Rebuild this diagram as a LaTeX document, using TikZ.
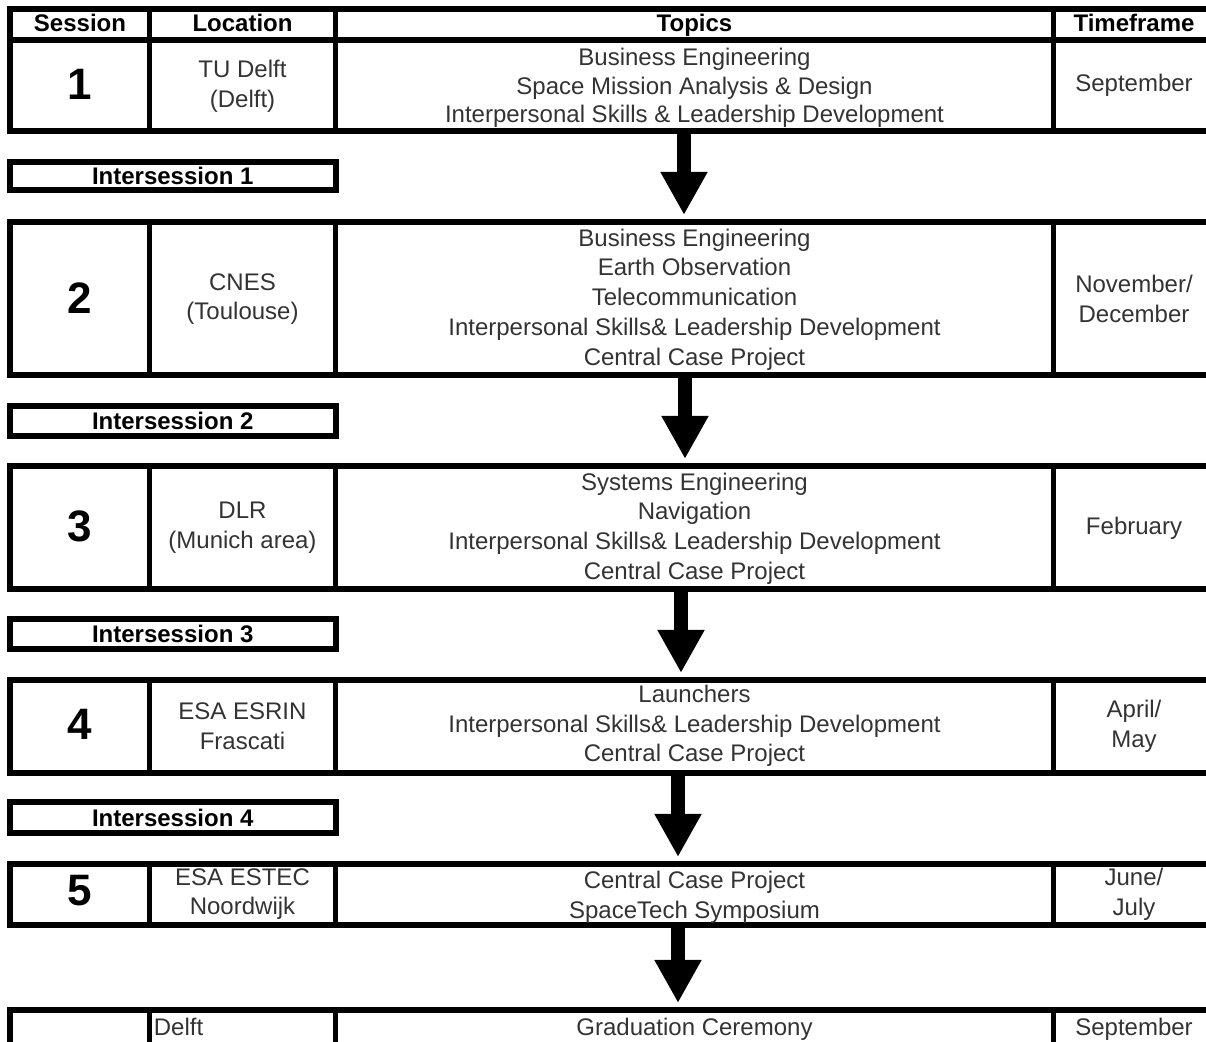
\documentclass[tikz,border=0pt]{standalone}
\usepackage{fontspec}
\setmainfont{Liberation Sans}
\usetikzlibrary{arrows.meta, positioning}

\begin{document}
\begin{tikzpicture}[x=0.5pt, y=-0.5pt,
		rowbox/.style={draw, line width=3pt, inner sep=0pt, outer sep=0pt, anchor=north west, minimum width=602.5pt},
		interbox/.style={draw, line width=3pt, inner sep=0pt, outer sep=0pt, anchor=north west, minimum width=162.75pt, font=\fontsize{12pt}{13pt}\selectfont\bfseries},
		rule/.style={line width=2.8pt},
		head/.style={inner sep=0pt, anchor=base, font=\fontsize{12pt}{14pt}\selectfont\bfseries},
		number/.style={inner sep=0pt, font=\fontsize{22pt}{26pt}\selectfont\bfseries},
		cell/.style={inner sep=0pt, align=center, text=black!80, font=\fontsize{12pt}{14.85pt}\selectfont},
		flow/.style={line width=7pt, -{Triangle[width=22pt, length=21.5pt]}, shorten >=3.5pt}
		]
		\useasboundingbox (0,0) rectangle (1206,1042);
		\clip (0,0) rectangle (1206,1042);
		
		\node [rowbox, minimum height=15.25pt] (head) at (10,9.5) {};
		\node [rowbox, minimum height=45.75pt] (row1) at (10,40) {};
		\node [rowbox, minimum height=76.75pt] (row2) at (10,222) {};
		\node [rowbox, minimum height=61.5pt] (row3) at (10,466) {};
		\node [rowbox, minimum height=46.5pt] (row4) at (10,680) {};
		\node [rowbox, minimum height=30.5pt] (row5) at (10,864) {};
		\node [rowbox, minimum height=25pt] (row6) at (10,1010) {};
		
		\coordinate (colA) at (149.5,0);
		\coordinate (colB) at (335.5,0);
		\coordinate (colC) at (1053.5,0);
		\foreach \r in {head,row1,row2,row3,row4,row5,row6}
			\foreach \c in {colA,colB,colC}
				\draw [rule] (\r.north -| \c) -- (\r.south -| \c);
		
		\node [head] (hsession) at (80,32) {Session};
		\node [head] (hlocation) at (242.5,32) {Location};
		\node [head] (htopics) at (694.5,32) {Topics};
		\node [head] (htime) at (1134,32) {Timeframe};
		
		\node [number] (num1) at (80,84) {1};
		\node [cell] (loc1) at (242.5,86) {TU Delft\\(Delft)};
		\node [cell, font=\fontsize{12pt}{14.25pt}\selectfont] (top1) at (694.5,88) {Business Engineering\\Space Mission Analysis \& Design\\Interpersonal Skills \& Leadership Development};
		\node [cell] (time1) at (1134,85) {September};
		
		\node [interbox, minimum height=14pt] (inter1) at (10,162) {Intersession 1};
		
		\node [number] (num2) at (80,298) {2};
		\node [cell] (loc2) at (242.5,299) {CNES\\(Toulouse)};
		\node [cell] (top2) at (694.5,299.5) {Business Engineering\\Earth Observation\\Telecommunication\\Interpersonal Skills\& Leadership Development\\Central Case Project};
		\node [cell] (time2) at (1134,299) {November/\\December};
		
		\node [interbox, minimum height=15pt] (inter2) at (10,406) {Intersession 2};
		
		\node [number] (num3) at (80,526) {3};
		\node [cell] (loc3) at (242.5,528) {DLR\\(Munich area)};
		\node [cell] (top3) at (694.5,528.5) {Systems Engineering\\Navigation\\Interpersonal Skills\& Leadership Development\\Central Case Project};
		\node [cell] (time3) at (1134,528) {February};
		
		\node [interbox, minimum height=15pt] (inter3) at (10,619) {Intersession 3};
		
		\node [number] (num4) at (80,724) {4};
		\node [cell] (loc4) at (242.5,726) {ESA ESRIN\\Frascati};
		\node [cell] (top4) at (694.5,726) {Launchers\\Interpersonal Skills\& Leadership Development\\Central Case Project};
		\node [cell] (time4) at (1134,726) {April/\\May};
		
		\node [interbox, minimum height=15.5pt] (inter4) at (10,802) {Intersession 4};
		
		\node [number] (num5) at (80,891) {5};
		\node [cell] (loc5) at (242.5,894) {ESA ESTEC\\Noordwijk};
		\node [cell] (top5) at (694.5,897) {Central Case Project\\SpaceTech Symposium};
		\node [cell] (time5) at (1134,894) {June/\\July};
		
		\node [cell, anchor=west] (loc6) at (153.5,1027) {Delft};
		\node [cell] (top6) at (694.5,1029) {Graduation Ceremony};
		\node [cell] (time6) at (1134,1029) {September};
		
		\coordinate (a1) at (684,0);
		\coordinate (a2) at (685,0);
		\coordinate (a3) at (681,0);
		\coordinate (a4) at (678,0);
		\coordinate (a5) at (678,0);
		\draw [flow] (row1.south -| a1) -- (row2.north -| a1);
		\draw [flow] (row2.south -| a2) -- (row3.north -| a2);
		\draw [flow] (row3.south -| a3) -- (row4.north -| a3);
		\draw [flow] (row4.south -| a4) -- (row5.north -| a4);
		\draw [flow] (row5.south -| a5) -- (row6.north -| a5);
	\end{tikzpicture}
\end{document}
